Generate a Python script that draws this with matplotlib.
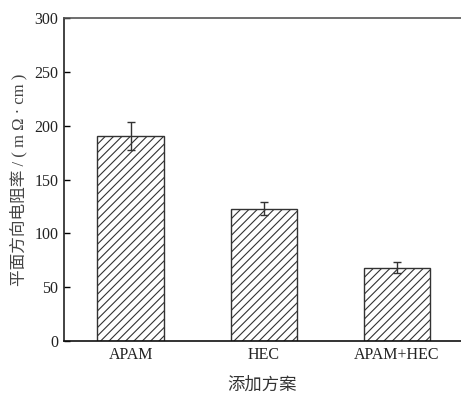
import matplotlib
matplotlib.use("Agg")
import matplotlib.pyplot as plt

plt.rcParams["font.family"] = ["Liberation Serif", "Noto Sans CJK SC"]
plt.rcParams["hatch.linewidth"] = 0.8

schemes = ["APAM", "HEC", "APAM+HEC"]
resistivity = [190, 123, 68]
resistivity_err = [13, 6, 5]

fig = plt.figure(figsize=(4.61, 4.00), dpi=100)
ax = fig.add_axes([0.139, 0.1475, 0.861, 0.8075])

x = range(len(schemes))
ax.bar(x, resistivity, width=0.5, color="white", edgecolor="#333333",
       linewidth=1.0, hatch="////", zorder=2)
ax.errorbar(x, resistivity, yerr=resistivity_err, fmt="none",
            ecolor="#333333", elinewidth=1.0, capsize=3, capthick=1.0, zorder=3)

ax.set_xlim(-0.5, 2.48)
ax.set_ylim(0, 300)
ax.set_yticks(range(0, 301, 50))
ax.set_xticks(list(x))
ax.set_xticklabels(schemes)

ax.tick_params(axis="y", direction="in", length=4, width=1, labelsize=11.5,
               pad=4, labelcolor="#222222")
ax.tick_params(axis="x", length=0, labelsize=11.5, pad=4, labelcolor="#222222")

ax.spines["right"].set_visible(False)
ax.spines["top"].set_color("#555555")
ax.spines["left"].set_color("#222222")
ax.spines["bottom"].set_color("#111111")
for s in ax.spines.values():
    s.set_linewidth(1.2)

ax.set_xlabel("添加方案", fontsize=12.5, labelpad=11, color="#333333")
ax.set_ylabel("平面方向电阻率 / ( m Ω · cm )", fontsize=12, labelpad=5,
              color="#444444")

fig.savefig("out.png", dpi=100)
